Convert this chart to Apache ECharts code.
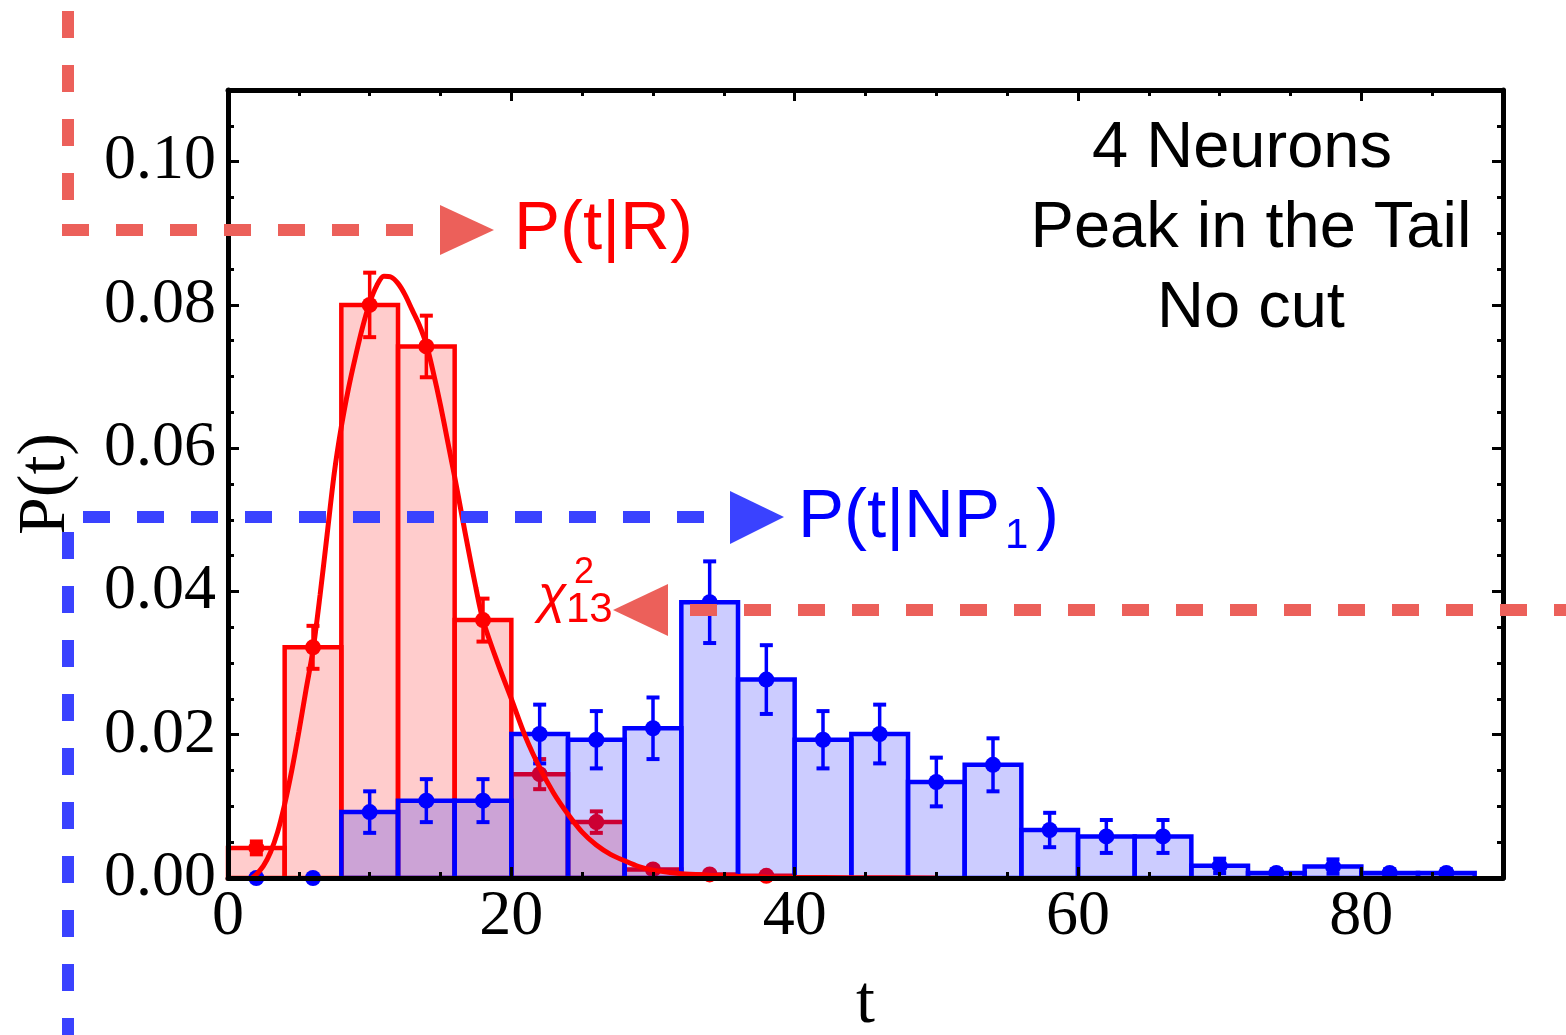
<!DOCTYPE html>
<html><head><meta charset="utf-8">
<script src="https://cdn.jsdelivr.net/npm/echarts@6/dist/echarts.min.js"></script>
<style>html,body{margin:0;padding:0;background:#fff}#c{width:1566px;height:1035px}</style>
</head><body><div id="c"></div>
<script>
// ---- data ----
const binEdges = [0,4,8,12,16,20,24,28,32,36,40,44,48,52,56,60,64,68,72,76,80,84,88];
const redValues = [0.0042,0.0322,0.0800,0.0742,0.0360,0.0145,0.0078,0.0012,0.0005,0.0003];
const redErrors = [0.0009,0.0030,0.0045,0.0043,0.0030,0.0021,0.0015,0.0004,0.0002,0.0001];
const blueValues = [0,0,0.0092,0.0108,0.0108,0.0201,0.0193,0.0209,0.0385,0.0277,0.0193,0.0201,0.0134,0.0158,0.0067,0.0058,0.0058,0.0017,0.0007,0.0016,0.0007,0.0007];
const blueErrors = [0,0,0.0029,0.0030,0.0030,0.0041,0.0040,0.0043,0.0057,0.0048,0.0040,0.0041,0.0034,0.0037,0.0024,0.0023,0.0023,0.0010,0.0005,0.0010,0.0005,0.0005];
const fitT = [1.7,2,2.5,3,3.5,4,4.5,5,5.5,6,6.5,7,7.5,8,8.5,9,9.5,10,10.5,11,11.5,12,12.5,13,13.5,14,14.5,15,15.5,16,16.5,17,17.5,18,19,20,21,22,23,24,25,26,27,28,29,30,32,34,36,38,40,44,50];
const fitP = [0,0.0005,0.0017,0.0036,0.0064,0.0103,0.0150,0.0204,0.0262,0.0318,0.0395,0.0480,0.0565,0.0630,0.0683,0.0728,0.0769,0.0803,0.0827,0.0840,0.0839,0.0830,0.0814,0.0793,0.0772,0.0745,0.0705,0.0660,0.0610,0.0560,0.0507,0.0455,0.0405,0.0360,0.0302,0.0250,0.0197,0.0154,0.0118,0.0089,0.0064,0.0046,0.0033,0.0024,0.0016,0.0011,0.0006,0.0004,0.00025,0.00015,0.0001,0.00004,0];
const xMajorStep = 20, xMinorStep = 5, yMajorStep = 0.02, yMinorStep = 0.005;
const xRange = [0, 90], yRange = [0, 0.11];
const annotationLines = ['4 Neurons', 'Peak in the Tail', 'No cut'];

// ---- derived ----
const redBars = redValues.map((v,i)=>[binEdges[i],binEdges[i+1],v]);
const blueBars = blueValues.map((v,i)=>[binEdges[i],binEdges[i+1],v]);
const redPts = redValues.map((v,i)=>[(binEdges[i]+binEdges[i+1])/2, v, redErrors[i]]);
const bluePts = blueValues.map((v,i)=>[(binEdges[i]+binEdges[i+1])/2, v, blueErrors[i]]);
const fitData = fitT.map((t,i)=>[t, fitP[i]]);

const RED='#ff0000', BLUE='#0000ff', SALMON='#ec605a', DBLUE='#3a42ff';

function barItem(fill, stroke){
  return function(params, api){
    const x0=api.value(0), x1=api.value(1), v=api.value(2);
    if(!(v>0)) return;
    const p0=api.coord([x0,v]), p1=api.coord([x1,0]);
    return {type:'rect', shape:{x:p0[0], y:p0[1], width:p1[0]-p0[0], height:p1[1]-p0[1]},
      style:{fill:fill, stroke:stroke, lineWidth:4.5}};
  };
}
function errItem(color){
  return function(params, api){
    const x=api.value(0), y=api.value(1), e=api.value(2);
    const c=api.coord([x,y]), lo=api.coord([x,y-e]), hi=api.coord([x,y+e]);
    const cap=6.5, ch=[];
    if(e>0){
      ch.push({type:'line',shape:{x1:c[0],y1:lo[1],x2:c[0],y2:hi[1]},style:{stroke:color,lineWidth:3.5}});
      ch.push({type:'line',shape:{x1:c[0]-cap,y1:lo[1],x2:c[0]+cap,y2:lo[1]},style:{stroke:color,lineWidth:4}});
      ch.push({type:'line',shape:{x1:c[0]-cap,y1:hi[1],x2:c[0]+cap,y2:hi[1]},style:{stroke:color,lineWidth:4}});
    }
    ch.push({type:'circle',shape:{cx:c[0],cy:c[1],r:8},style:{fill:color}});
    return {type:'group', children:ch};
  };
}

const tickFont = {fontFamily:'Liberation Serif', fontSize:64, color:'#000'};
function xAx(pos, step, major, labels){
  return {type:'value', position:pos, min:xRange[0], max:xRange[1], interval:step, z:10,
    axisLine:{show:major, onZero:false, lineStyle:{color:'#000', width:5}},
    axisTick:{show:true, inside:true, length:major?11:6, lineStyle:{color:'#000', width:3}},
    axisLabel:Object.assign({show:labels, margin:7, showMaxLabel:false}, tickFont),
    splitLine:{show:false}, minorTick:{show:false}};
}
function yAx(pos, step, major, labels){
  return {type:'value', position:pos, min:yRange[0], max:yRange[1], interval:step, z:10,
    axisLine:{show:major, onZero:false, lineStyle:{color:'#000', width:5}},
    axisTick:{show:true, inside:true, length:major?11:6, lineStyle:{color:'#000', width:3}},
    axisLabel:Object.assign({show:labels, margin:12, showMaxLabel:false, formatter:v=>v.toFixed(2)}, tickFont),
    splitLine:{show:false}, minorTick:{show:false}};
}
const xAxes = [xAx('bottom',xMajorStep,true,true), xAx('bottom',xMinorStep,false,false), xAx('top',xMajorStep,true,false), xAx('top',xMinorStep,false,false)];
Object.assign(xAxes[0], {name:'t', nameLocation:'middle', nameGap:92, nameTextStyle:{fontFamily:'Liberation Serif', fontSize:68, color:'#000'}});
const yAxes = [yAx('left',yMajorStep,true,true), yAx('left',yMinorStep,false,false), yAx('right',yMajorStep,true,false), yAx('right',yMinorStep,false,false)];
Object.assign(yAxes[0], {name:'P(t)', nameLocation:'middle', nameGap:148, nameTextStyle:{fontFamily:'Liberation Serif', fontSize:68, color:'#000'}});

function dashLine(x1,y1,x2,y2,color){
  return {type:'line', z:100, shape:{x1,y1,x2,y2}, style:{stroke:color, lineWidth:12, lineDash:[27,27], lineCap:'butt'}};
}
function tri(points,color){ return {type:'polygon', z:100, shape:{points}, style:{fill:color}}; }
function txt(x,y,text,size,color,extra){
  return {type:'text', z:100, x, y, style:Object.assign({text, fontFamily:'Liberation Sans', fontSize:size, fill:color, verticalAlign:'middle', align:'left'}, extra||{})};
}
const infoCenters = [[1242,149],[1251,229],[1251,309]];

const chart = echarts.init(document.getElementById('c'), null, {renderer:'canvas'});
chart.setOption({
  animation:false,
  backgroundColor:'#fff',
  grid:{left:228, right:63, top:90, bottom:157, outerBoundsMode:'none', containLabel:false},
  xAxis:xAxes, yAxis:yAxes,
  series:[
    {type:'custom', renderItem:barItem('rgba(255,0,0,0.2)',RED), data:redBars, encode:{x:[0,1], y:2}},
    {type:'custom', renderItem:errItem(RED), data:redPts, encode:{x:0, y:1}},
    {type:'custom', renderItem:barItem('rgba(0,0,255,0.2)',BLUE), data:blueBars, encode:{x:[0,1], y:2}},
    {type:'custom', renderItem:errItem(BLUE), data:bluePts, encode:{x:0, y:1}},
    {type:'line', data:fitData, smooth:0.3, showSymbol:false, lineStyle:{color:RED, width:5}}
  ],
  graphic:[
    dashLine(68,11,68,200,SALMON),
    dashLine(62,230,440,230,SALMON),
    tri([[440,205],[494,230],[440,255]],SALMON),
    txt(514,230,'P(t|R)',69,RED),
    dashLine(68,532,68,1035,DBLUE),
    dashLine(83,517,730,517,DBLUE),
    tri([[730,491],[784,517],[730,544]],DBLUE),
    txt(798,518,'P(t|NP',69,BLUE),
    txt(1005,536,'1',42,BLUE),
    txt(1036,518,')',69,BLUE),
    dashLine(690,610,1566,610,SALMON),
    tri([[668,584],[613,610],[668,636]],SALMON),
    txt(538,598,'χ',52,RED,{fontStyle:'italic'}),
    txt(574,573,'2',36,RED),
    txt(566,610,'13',42,RED)
  ].concat(annotationLines.map((s,i)=>txt(infoCenters[i][0], infoCenters[i][1], s, 65, '#000', {align:'center'})))
});
</script></body></html>
